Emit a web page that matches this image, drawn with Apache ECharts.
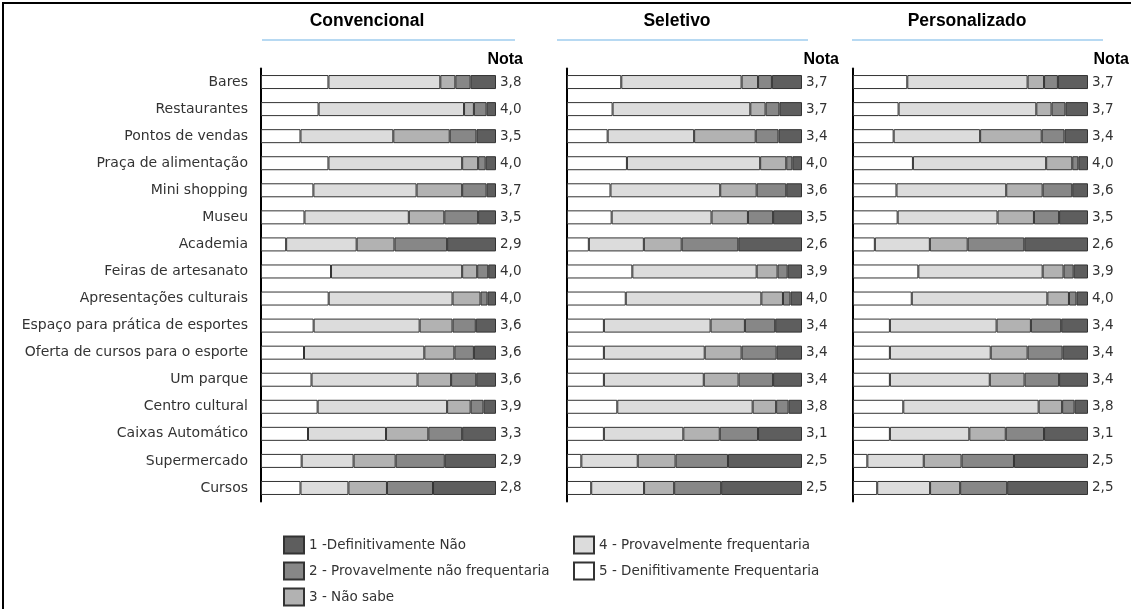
<!DOCTYPE html>
<html>
<head>
<meta charset="utf-8">
<script src="https://cdn.jsdelivr.net/npm/echarts@6/dist/echarts.min.js"></script>
<style>html,body{margin:0;padding:0;background:#fff;}#c{width:1131px;height:609px;}</style>
</head>
<body>
<div id="c"></div>
<script>
var categories = ['Bares','Restaurantes','Pontos de vendas','Praça de alimentação','Mini shopping','Museu','Academia','Feiras de artesanato','Apresentações culturais','Espaço para prática de esportes','Oferta de cursos para o esporte','Um parque','Centro cultural','Caixas Automático','Supermercado','Cursos'];
var panelTitles = ['Convencional','Seletivo','Personalizado'];
var legendNames = ['1 -Definitivamente Não','2 - Provavelmente não frequentaria','3 - Não sabe','4 - Provavelmente frequentaria','5 - Denifitivamente Frequentaria'];

// Convencional (% per answer)
var conv5 = [28.7,24.5,16.8,28.7,22.3,18.5,10.7,29.8,28.8,22.4,18.3,21.5,24.1,20.0,17.3,16.8];
var conv4 = [47.6,61.9,39.5,56.9,43.9,44.4,30.0,55.8,52.7,45.1,51.2,45.1,55.1,33.2,22.1,20.4];
var conv3 = [6.4,4.2,24.0,6.8,19.4,15.1,16.1,6.4,11.9,14.0,12.8,14.3,10.0,18.0,17.9,16.4];
var conv2 = [6.5,5.4,11.4,3.2,10.4,14.4,22.4,4.7,3.0,9.9,8.3,10.7,5.5,14.4,20.9,19.6];
var conv1 = [10.8,4.0,8.3,4.4,4.0,7.6,20.8,3.3,3.6,8.6,9.4,8.4,5.3,14.4,21.8,26.8];
var convNota = ['3,8','4,0','3,5','4,0','3,7','3,5','2,9','4,0','4,0','3,6','3,6','3,6','3,9','3,3','2,9','2,8'];

// Seletivo
var sel5 = [23.1,19.4,17.3,25.5,18.5,19.0,9.3,27.8,25.0,15.7,15.7,15.7,21.4,15.7,6.1,10.3];
var sel4 = [51.2,58.6,36.8,56.7,46.7,42.5,23.4,52.9,57.7,45.4,42.9,42.5,57.6,33.8,24.0,22.5];
var sel3 = [7.0,6.5,26.2,11.1,15.5,15.5,16.1,8.9,9.2,14.6,15.7,14.8,10.0,15.5,16.1,12.8];
var sel2 = [5.9,5.9,9.7,2.6,12.6,10.7,24.1,4.3,3.2,12.9,14.9,14.7,5.3,16.3,22.3,20.0];
var sel1 = [12.8,9.6,10.0,4.1,6.7,12.3,27.1,6.1,4.9,11.4,10.8,12.3,5.7,18.7,31.5,34.4];
var selNota = ['3,7','3,7','3,4','4,0','3,6','3,5','2,6','3,9','4,0','3,4','3,4','3,4','3,8','3,1','2,5','2,5'];

// Personalizado
var pers5 = [23.1,19.4,17.3,25.5,18.5,19.0,9.3,27.8,25.0,15.7,15.7,15.7,21.4,15.7,6.1,10.3];
var pers4 = [51.2,58.6,36.8,56.7,46.7,42.5,23.4,52.9,57.7,45.4,42.9,42.5,57.6,33.8,24.0,22.5];
var pers3 = [7.0,6.5,26.2,11.1,15.5,15.5,16.1,8.9,9.2,14.6,15.7,14.8,10.0,15.5,16.1,12.8];
var pers2 = [5.9,5.9,9.7,2.6,12.6,10.7,24.1,4.3,3.2,12.9,14.9,14.7,5.3,16.3,22.3,20.0];
var pers1 = [12.8,9.6,10.0,4.1,6.7,12.3,27.1,6.1,4.9,11.4,10.8,12.3,5.7,18.7,31.5,34.4];
var persNota = ['3,7','3,7','3,4','4,0','3,6','3,5','2,6','3,9','4,0','3,4','3,4','3,4','3,8','3,1','2,5','2,5'];

var panels = [
  {s:[conv5,conv4,conv3,conv2,conv1], nota:convNota},
  {s:[sel5,sel4,sel3,sel2,sel1], nota:selNota},
  {s:[pers5,pers4,pers3,pers2,pers1], nota:persNota}
];
var segNames = [legendNames[4],legendNames[3],legendNames[2],legendNames[1],legendNames[0]];
var segColors = ['#ffffff','#dcdcdc','#b2b2b2','#878787','#5e5e5e'];

var FONT = '"DejaVu Sans", Verdana, sans-serif';
var TFONT = '"Liberation Sans", Arial, sans-serif';
var gridLeft = [261, 567, 853];
var gridW = 235;
var grids = [], xAxes = [], yAxes = [], series = [];
panels.forEach(function(p, gi){
  grids.push({left: gridLeft[gi], width: gridW, top: 68.5, height: 433, containLabel: false});
  xAxes.push({type:'value', gridIndex: gi, min:0, max:100, show:false});
  yAxes.push({type:'category', gridIndex: gi, data: categories, inverse: true,
    axisLine:{show:true, lineStyle:{color:'#000', width:2}},
    axisTick:{show:false},
    axisLabel:{show: gi===0, color:'#333', fontSize:14, fontFamily:FONT, margin:13},
    splitLine:{show:false}});
  p.s.forEach(function(arr, si){
    var ser = {
      type:'bar', name: segNames[si], stack:'p'+gi, xAxisIndex: gi, yAxisIndex: gi,
      data: arr, barWidth: 14, animation:false,
      itemStyle:{color: segColors[si], borderColor:'#333', borderWidth:1},
      emphasis:{disabled:true}
    };
    if (si === 4) {
      ser.label = {show:true, position:'right', distance:4, color:'#333', fontSize:13.5, fontFamily:FONT,
        formatter: (function(n){ return function(d){ return n[d.dataIndex]; }; })(p.nota)};
    }
    series.push(ser);
  });
});

var titleCenters = [367, 677, 967];
var lineSpans = [[262,515],[557,808],[852,1103]];
var notaRight = [523, 839, 1129];
var graphics = [
  {type:'rect', shape:{x:3, y:3, width:1300, height:800}, style:{fill:'none', stroke:'#000', lineWidth:2}, silent:true}
];
panelTitles.forEach(function(t, i){
  graphics.push({type:'text', x: titleCenters[i], y: 21, style:{text:t, font:'bold 17.5px '+TFONT, fill:'#000', textAlign:'center', textVerticalAlign:'middle'}});
  graphics.push({type:'line', shape:{x1: lineSpans[i][0], y1:40, x2: lineSpans[i][1], y2:40}, style:{stroke:'#9fcdee', lineWidth:1.5}});
  graphics.push({type:'text', x: notaRight[i], y: 60, style:{text:'Nota', font:'bold 16px '+TFONT, fill:'#000', textAlign:'right', textVerticalAlign:'middle'}});
});

var legendCommon = {orient:'vertical', top:535.5, height:100, padding:0, itemWidth:20, itemHeight:17, itemGap:7,
  icon:'rect', selectedMode:false, textStyle:{fontSize:13.5, color:'#333', fontFamily:FONT}};

var chart = echarts.init(document.getElementById('c'), null, {renderer:'canvas'});
chart.setOption({
  animation:false,
  backgroundColor:'#fff',
  grid: grids, xAxis: xAxes, yAxis: yAxes, series: series,
  legend: [
    Object.assign({left:283, data:[legendNames[0],legendNames[1],legendNames[2]]}, legendCommon),
    Object.assign({left:573, data:[legendNames[3],legendNames[4]]}, legendCommon)
  ],
  graphic: graphics
});
</script>
</body>
</html>
